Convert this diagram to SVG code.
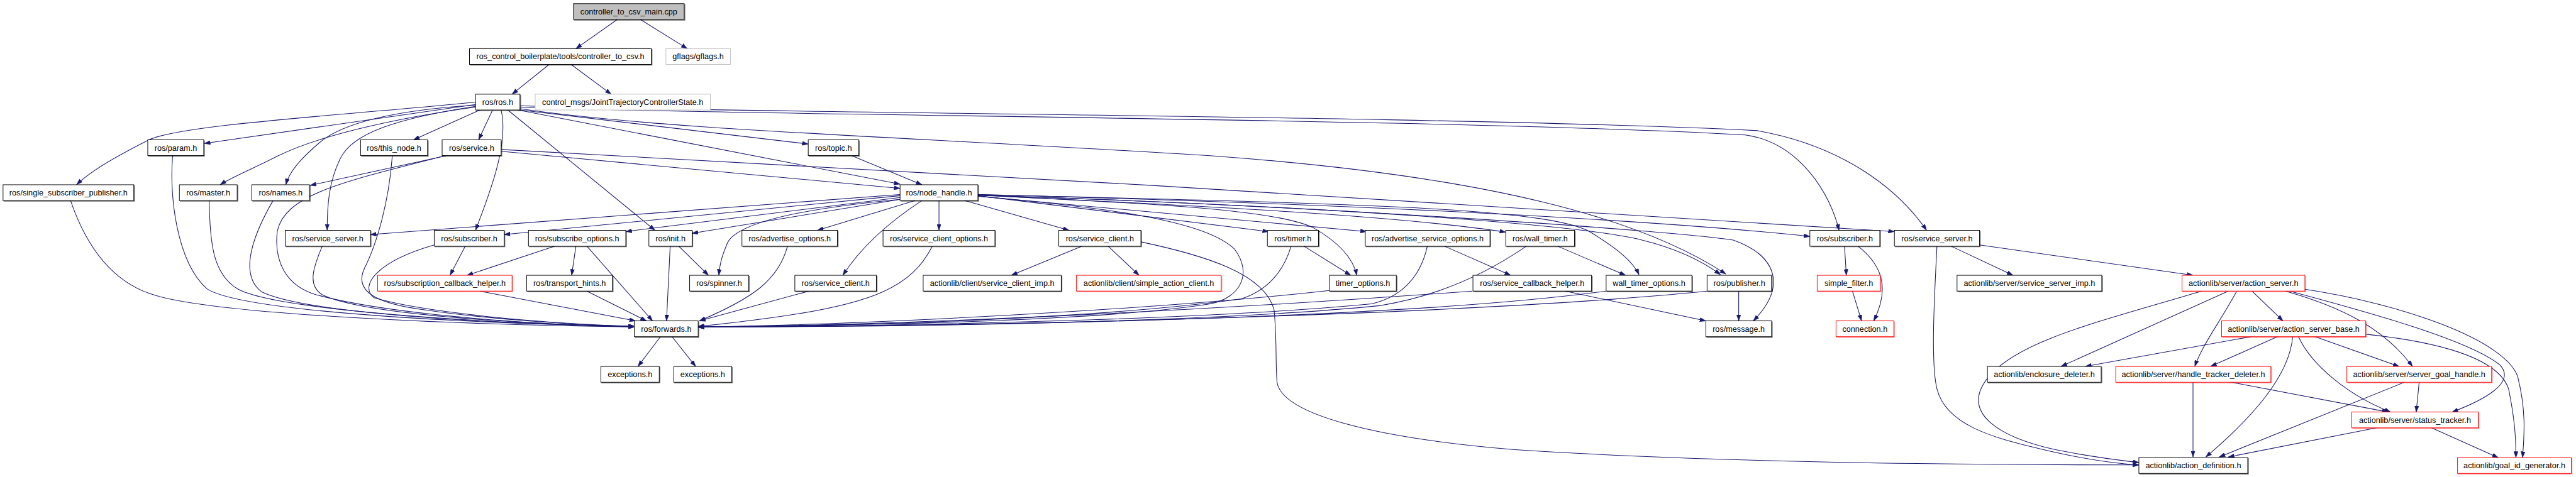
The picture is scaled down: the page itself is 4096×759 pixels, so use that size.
<svg xmlns="http://www.w3.org/2000/svg" width="4096" height="759" viewBox="0 0 4096 759">
<defs>
<marker id="ah" viewBox="0 0 10 7" refX="10" refY="3.5" markerWidth="10" markerHeight="7" markerUnits="userSpaceOnUse" orient="auto"><path d="M0,0L10,3.5L0,7z" fill="#191970" stroke="#191970" stroke-width="0.5"/></marker>
<style>
.box{fill:#fff;stroke:#000;stroke-width:1}
.red .box{stroke:#ff0000}
.gray .box{stroke:#bfbfbf}
.root .box{fill:#bfbfbf}
.sh{fill:none;stroke:#000;stroke-width:1.5;opacity:.55}
.red .sh{stroke:#ff0000;opacity:.4}
text{font-family:"Liberation Sans",Arial,sans-serif;font-size:13.1px;text-anchor:middle;fill:#000}
.e path{fill:none;stroke:#191970;stroke-width:1.1;marker-end:url(#ah)}
</style>
</defs>
<rect width="4096" height="759" fill="#fff"/>
<g transform="scale(0.967)">
<g id="edges" class="e">
<path d="M1015,32L947,80"/>
<path d="M1053,32L1130,80"/>
<path d="M903,106L842,155"/>
<path d="M939,106L1005,155"/>
<path d="M782,168C560,190 300,205 245,230C195,255 150,280 126,304"/>
<path d="M782,172L336,236"/>
<path d="M782,176C640,196 520,225 456,257C415,278 380,292 362,304"/>
<path d="M782,173C640,182 560,205 525,235C490,265 475,285 470,304"/>
<path d="M782,175C650,195 580,220 560,260C540,300 538,340 538,379"/>
<path d="M789,181L680,230"/>
<path d="M810,181L787,230"/>
<path d="M824,181C838,240 800,330 782,379"/>
<path d="M835,181L1077,379"/>
<path d="M855,181L1329,237"/>
<path d="M852,181L1480,303"/>
<path d="M855,179C1100,215 1500,225 2000,257C2450,290 2700,360 2838,451"/>
<path d="M855,176C1200,190 2400,195 2870,222C2960,235 3010,320 3024,379"/>
<path d="M855,174C1200,186 2400,190 2890,215C3030,240 3120,310 3168,379"/>
<path d="M735,256L510,305"/>
<path d="M733,256C560,300 470,320 456,380C450,430 470,470 520,485C650,520 900,535 1043,538"/>
<path d="M824,249L1480,310"/>
<path d="M824,246C1500,280 2500,340 3115,381"/>
<path d="M1400,256L1516,304"/>
<path d="M1480,320L609,386"/>
<path d="M1480,322L829,386"/>
<path d="M1480,325L1029,381"/>
<path d="M1480,328L1138,384"/>
<path d="M1505,330L1344,379"/>
<path d="M1544,330L1544,379"/>
<path d="M1586,330L1758,379"/>
<path d="M1608,322L2086,381"/>
<path d="M1608,323L2247,381"/>
<path d="M1608,321C2000,340 2300,355 2476,382"/>
<path d="M1608,320C2200,335 2700,360 2976,389"/>
<path d="M1608,320C2200,335 2560,340 2620,385C2660,410 2685,430 2695,452"/>
<path d="M1608,321C2200,340 2600,370 2700,395C2760,410 2800,430 2829,452"/>
<path d="M1608,321C2200,340 2750,380 2850,395C2920,420 2940,470 2883,528"/>
<path d="M1480,328C1300,345 1210,370 1196,400C1188,420 1184,430 1182,453"/>
<path d="M1516,330C1470,360 1420,400 1386,453"/>
<path d="M1608,323C1800,340 1980,360 2030,410C2060,450 2040,490 1990,500C1800,530 1400,535 1148,538"/>
<path d="M1608,321C1900,335 2100,345 2160,375C2200,398 2225,425 2231,453"/>
<path d="M1779,405L1663,453"/>
<path d="M1822,405L1873,453"/>
<path d="M1876,398C1980,420 2080,450 2095,510C2100,560 2097,600 2100,630C2110,680 2250,720 2491,740C2800,760 3200,765 3517,765"/>
<path d="M2144,405L2221,453"/>
<path d="M2123,405C2110,450 2080,480 2040,492C1800,525 1400,537 1148,538"/>
<path d="M2186,478C1900,510 1400,535 1148,538"/>
<path d="M2375,405L2484,453"/>
<path d="M2347,405C2335,460 2300,490 2255,500C2000,525 1500,537 1148,538"/>
<path d="M2561,405L2673,453"/>
<path d="M2510,405C2430,460 2350,490 2268,503C2000,530 1500,538 1148,538"/>
<path d="M2421,479C2000,510 1500,535 1148,538"/>
<path d="M2574,479L2805,528"/>
<path d="M2641,479C2300,525 1600,537 1148,538"/>
<path d="M2807,479C2400,520 1600,537 1148,538"/>
<path d="M2859,479L2859,528"/>
<path d="M3033,405L3036,453"/>
<path d="M3055,405C3100,440 3105,480 3081,528"/>
<path d="M3046,479L3061,528"/>
<path d="M116,330C140,400 180,460 246,483C350,520 800,535 1043,538"/>
<path d="M284,256C278,320 290,430 340,475C400,515 800,533 1043,537"/>
<path d="M344,330C345,400 350,450 390,475C450,510 800,533 1043,537"/>
<path d="M449,330C420,380 390,450 430,480C500,515 800,533 1043,537"/>
<path d="M645,256C640,330 620,400 600,440C580,480 620,500 700,510C800,525 950,535 1043,537"/>
<path d="M530,405C515,440 505,470 530,485C600,520 900,535 1043,537"/>
<path d="M714,403C620,430 590,470 615,490C700,515 900,533 1043,537"/>
<path d="M765,405L740,453"/>
<path d="M912,405L768,453"/>
<path d="M947,405L940,453"/>
<path d="M965,405L1073,528"/>
<path d="M789,479L1045,528"/>
<path d="M965,479L1063,528"/>
<path d="M1102,405L1096,528"/>
<path d="M1116,405L1165,453"/>
<path d="M1295,405C1280,460 1240,490 1150,528"/>
<path d="M1330,479L1150,528"/>
<path d="M1533,405C1500,470 1440,500 1267,523C1200,532 1170,535 1148,537"/>
<path d="M1086,554L1049,603"/>
<path d="M1105,554L1144,603"/>
<path d="M3185,405C3180,500 3175,600 3185,640C3200,700 3280,720 3340,735C3420,755 3480,763 3517,765"/>
<path d="M3208,405L3310,453"/>
<path d="M3255,403L3606,453"/>
<path d="M3620,479C3450,530 3320,560 3270,620C3220,680 3290,720 3380,740C3440,752 3490,758 3517,761"/>
<path d="M3664,479L3389,603"/>
<path d="M3678,479C3650,530 3620,570 3609,603"/>
<path d="M3703,479L3754,528"/>
<path d="M3758,479C3850,505 3920,540 3967,603"/>
<path d="M3765,479C3900,515 4060,560 4110,600C4140,630 4080,660 4032,678"/>
<path d="M3790,476C3950,500 4120,560 4140,620C4155,680 4150,720 4148,753"/>
<path d="M3707,553L3429,603"/>
<path d="M3747,553L3635,603"/>
<path d="M3770,553C3765,620 3700,690 3627,752"/>
<path d="M3779,553C3800,600 3860,650 3931,678"/>
<path d="M3804,553L3945,603"/>
<path d="M3891,550C4030,565 4110,595 4125,640C4135,690 4137,720 4137,753"/>
<path d="M3606,628L3606,752"/>
<path d="M3664,628L3927,678"/>
<path d="M3956,628L3649,752"/>
<path d="M3978,628L3973,678"/>
<path d="M3913,703L3664,752"/>
<path d="M3996,703L4108,753"/>
</g>
<g id="n_root" class="root"><rect class="box" x="943" y="6" width="182" height="26"/><path class="sh" d="M944,33H1126V7"/><text x="1034" y="23.7">controller_to_csv_main.cpp</text></g>
<g id="n_ctrl_csv"><rect class="box" x="772" y="80" width="299" height="26"/><path class="sh" d="M773,107H1072V81"/><text x="921.5" y="97.7">ros_control_boilerplate/tools/controller_to_csv.h</text></g>
<g id="n_gflags" class="gray"><rect class="box" x="1095" y="80" width="106" height="26"/><text x="1148" y="97.7">gflags/gflags.h</text></g>
<g id="n_ros"><rect class="box" x="782" y="155" width="73" height="26"/><path class="sh" d="M783,182H856V156"/><text x="818.5" y="172.7">ros/ros.h</text></g>
<g id="n_jtcs" class="gray"><rect class="box" x="880" y="155" width="288" height="26"/><text x="1024" y="172.7">control_msgs/JointTrajectoryControllerState.h</text></g>
<g id="n_param"><rect class="box" x="243" y="230" width="92" height="26"/><path class="sh" d="M244,257H336V231"/><text x="289" y="247.7">ros/param.h</text></g>
<g id="n_this_node"><rect class="box" x="593" y="230" width="110" height="26"/><path class="sh" d="M594,257H704V231"/><text x="648" y="247.7">ros/this_node.h</text></g>
<g id="n_service"><rect class="box" x="727" y="230" width="97" height="26"/><path class="sh" d="M728,257H825V231"/><text x="775.5" y="247.7">ros/service.h</text></g>
<g id="n_topic"><rect class="box" x="1329" y="230" width="83" height="26"/><path class="sh" d="M1330,257H1413V231"/><text x="1370.5" y="247.7">ros/topic.h</text></g>
<g id="n_ssp"><rect class="box" x="5" y="304" width="215" height="26"/><path class="sh" d="M6,331H221V305"/><text x="112.5" y="321.7">ros/single_subscriber_publisher.h</text></g>
<g id="n_master"><rect class="box" x="295" y="304" width="95" height="26"/><path class="sh" d="M296,331H391V305"/><text x="342.5" y="321.7">ros/master.h</text></g>
<g id="n_names"><rect class="box" x="414" y="304" width="95" height="26"/><path class="sh" d="M415,331H510V305"/><text x="461.5" y="321.7">ros/names.h</text></g>
<g id="n_node_handle"><rect class="box" x="1480" y="304" width="128" height="26"/><path class="sh" d="M1481,331H1609V305"/><text x="1544" y="321.7">ros/node_handle.h</text></g>
<g id="n_ssL"><rect class="box" x="469" y="379" width="140" height="26"/><path class="sh" d="M470,406H610V380"/><text x="539" y="396.7">ros/service_server.h</text></g>
<g id="n_subL"><rect class="box" x="714" y="379" width="115" height="26"/><path class="sh" d="M715,406H830V380"/><text x="771.5" y="396.7">ros/subscriber.h</text></g>
<g id="n_subopts"><rect class="box" x="869" y="379" width="160" height="26"/><path class="sh" d="M870,406H1030V380"/><text x="949" y="396.7">ros/subscribe_options.h</text></g>
<g id="n_init"><rect class="box" x="1067" y="379" width="71" height="26"/><path class="sh" d="M1068,406H1139V380"/><text x="1102.5" y="396.7">ros/init.h</text></g>
<g id="n_advopts"><rect class="box" x="1220" y="379" width="157" height="26"/><path class="sh" d="M1221,406H1378V380"/><text x="1298.5" y="396.7">ros/advertise_options.h</text></g>
<g id="n_scopts"><rect class="box" x="1452" y="379" width="184" height="26"/><path class="sh" d="M1453,406H1637V380"/><text x="1544" y="396.7">ros/service_client_options.h</text></g>
<g id="n_sc1"><rect class="box" x="1741" y="379" width="135" height="26"/><path class="sh" d="M1742,406H1877V380"/><text x="1808.5" y="396.7">ros/service_client.h</text></g>
<g id="n_timer"><rect class="box" x="2084" y="379" width="84" height="26"/><path class="sh" d="M2085,406H2169V380"/><text x="2126" y="396.7">ros/timer.h</text></g>
<g id="n_advsrvopts"><rect class="box" x="2245" y="379" width="205" height="26"/><path class="sh" d="M2246,406H2451V380"/><text x="2347.5" y="396.7">ros/advertise_service_options.h</text></g>
<g id="n_wall_timer"><rect class="box" x="2476" y="379" width="113" height="26"/><path class="sh" d="M2477,406H2590V380"/><text x="2532.5" y="396.7">ros/wall_timer.h</text></g>
<g id="n_subR"><rect class="box" x="2976" y="379" width="115" height="26"/><path class="sh" d="M2977,406H3092V380"/><text x="3033.5" y="396.7">ros/subscriber.h</text></g>
<g id="n_ssR"><rect class="box" x="3115" y="379" width="140" height="26"/><path class="sh" d="M3116,406H3256V380"/><text x="3185" y="396.7">ros/service_server.h</text></g>
<g id="n_subcb" class="red"><rect class="box" x="621" y="453" width="221" height="26"/><path class="sh" d="M622,480H843V454"/><text x="731.5" y="470.7">ros/subscription_callback_helper.h</text></g>
<g id="n_transport"><rect class="box" x="866" y="453" width="141" height="26"/><path class="sh" d="M867,480H1008V454"/><text x="936.5" y="470.7">ros/transport_hints.h</text></g>
<g id="n_spinner"><rect class="box" x="1134" y="453" width="97" height="26"/><path class="sh" d="M1135,480H1232V454"/><text x="1182.5" y="470.7">ros/spinner.h</text></g>
<g id="n_sc2"><rect class="box" x="1307" y="453" width="134" height="26"/><path class="sh" d="M1308,480H1442V454"/><text x="1374" y="470.7">ros/service_client.h</text></g>
<g id="n_scimp"><rect class="box" x="1518" y="453" width="227" height="26"/><path class="sh" d="M1519,480H1746V454"/><text x="1631.5" y="470.7">actionlib/client/service_client_imp.h</text></g>
<g id="n_sac" class="red"><rect class="box" x="1770" y="453" width="238" height="26"/><path class="sh" d="M1771,480H2009V454"/><text x="1889" y="470.7">actionlib/client/simple_action_client.h</text></g>
<g id="n_timer_opts"><rect class="box" x="2186" y="453" width="110" height="26"/><path class="sh" d="M2187,480H2297V454"/><text x="2241" y="470.7">timer_options.h</text></g>
<g id="n_srvcb"><rect class="box" x="2422" y="453" width="195" height="26"/><path class="sh" d="M2423,480H2618V454"/><text x="2519.5" y="470.7">ros/service_callback_helper.h</text></g>
<g id="n_wto"><rect class="box" x="2641" y="453" width="141" height="26"/><path class="sh" d="M2642,480H2783V454"/><text x="2711.5" y="470.7">wall_timer_options.h</text></g>
<g id="n_publisher"><rect class="box" x="2807" y="453" width="106" height="26"/><path class="sh" d="M2808,480H2914V454"/><text x="2860" y="470.7">ros/publisher.h</text></g>
<g id="n_simple_filter" class="red"><rect class="box" x="2988" y="453" width="104" height="26"/><path class="sh" d="M2989,480H3093V454"/><text x="3040" y="470.7">simple_filter.h</text></g>
<g id="n_ssi"><rect class="box" x="3218" y="453" width="238" height="26"/><path class="sh" d="M3219,480H3457V454"/><text x="3337" y="470.7">actionlib/server/service_server_imp.h</text></g>
<g id="n_as" class="red"><rect class="box" x="3588" y="453" width="202" height="26"/><path class="sh" d="M3589,480H3791V454"/><text x="3689" y="470.7">actionlib/server/action_server.h</text></g>
<g id="n_forwards"><rect class="box" x="1043" y="528" width="105" height="26"/><path class="sh" d="M1044,555H1149V529"/><text x="1095.5" y="545.7">ros/forwards.h</text></g>
<g id="n_message"><rect class="box" x="2805" y="528" width="108" height="26"/><path class="sh" d="M2806,555H2914V529"/><text x="2859" y="545.7">ros/message.h</text></g>
<g id="n_connection" class="red"><rect class="box" x="3019" y="528" width="95" height="26"/><path class="sh" d="M3020,555H3115V529"/><text x="3066.5" y="545.7">connection.h</text></g>
<g id="n_asb" class="red"><rect class="box" x="3653" y="528" width="237" height="26"/><path class="sh" d="M3654,555H3891V529"/><text x="3771.5" y="545.7">actionlib/server/action_server_base.h</text></g>
<g id="n_exc1"><rect class="box" x="988" y="603" width="96" height="26"/><path class="sh" d="M989,630H1085V604"/><text x="1036" y="620.7">exceptions.h</text></g>
<g id="n_exc2"><rect class="box" x="1108" y="603" width="95" height="26"/><path class="sh" d="M1109,630H1204V604"/><text x="1155.5" y="620.7">exceptions.h</text></g>
<g id="n_encl"><rect class="box" x="3268" y="603" width="187" height="26"/><path class="sh" d="M3269,630H3456V604"/><text x="3361.5" y="620.7">actionlib/enclosure_deleter.h</text></g>
<g id="n_htd" class="red"><rect class="box" x="3479" y="603" width="255" height="26"/><path class="sh" d="M3480,630H3735V604"/><text x="3606.5" y="620.7">actionlib/server/handle_tracker_deleter.h</text></g>
<g id="n_sgh" class="red"><rect class="box" x="3859" y="603" width="238" height="26"/><path class="sh" d="M3860,630H4098V604"/><text x="3978" y="620.7">actionlib/server/server_goal_handle.h</text></g>
<g id="n_st" class="red"><rect class="box" x="3867" y="678" width="208" height="26"/><path class="sh" d="M3868,705H4076V679"/><text x="3971" y="695.7">actionlib/server/status_tracker.h</text></g>
<g id="n_ad"><rect class="box" x="3517" y="753" width="179" height="26"/><path class="sh" d="M3518,780H3697V754"/><text x="3606.5" y="770.7">actionlib/action_definition.h</text></g>
<g id="n_gig" class="red"><rect class="box" x="4041" y="753" width="187" height="26"/><path class="sh" d="M4042,780H4229V754"/><text x="4134.5" y="770.7">actionlib/goal_id_generator.h</text></g>
</g>
</svg>
